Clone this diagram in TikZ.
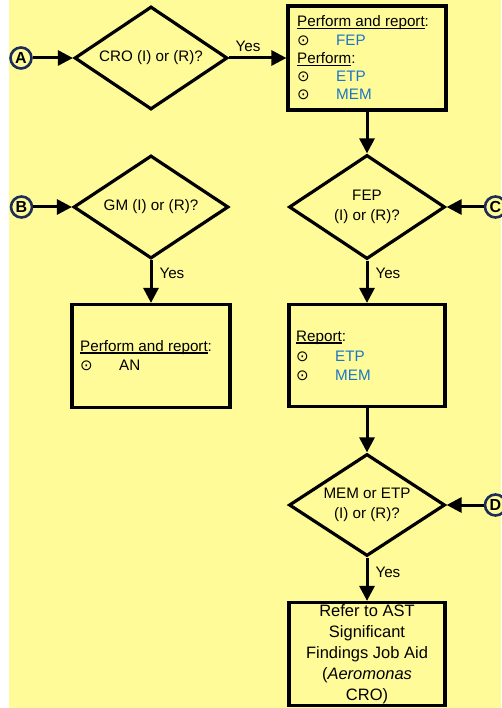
\documentclass[tikz,border=0pt]{standalone}
\usepackage{fontspec}
\setmainfont{Liberation Sans}
\newfontfamily\symf{DejaVu Sans}
\usetikzlibrary{shapes.geometric,arrows.meta}
\definecolor{pagebg}{RGB}{255,251,153}
\definecolor{ringnavy}{RGB}{28,45,90}
\definecolor{itemblue}{RGB}{26,117,198}
% underline drawn just below the baseline, crossing descenders
\newcommand\ulbar[1]{\setbox0\hbox{#1}\rlap{\rule[-2.3pt]{\wd0}{1.4pt}}\box0}
% bullet line: circled dot, then the item at a fixed tab
\newcommand\bitem[2][itemblue]{\makebox[39pt][l]{{\symf\fontsize{15}{15}\selectfont ⊙}}\textcolor{#1}{#2}}
\begin{document}
\begin{tikzpicture}[x=1pt,y=-1pt,
  every node/.style={font=\fontsize{15.2}{20}\selectfont},
  flow/.style={line width=3pt,-{Triangle[length=15pt,width=15pt]}},
  decision/.style={diamond,draw,line width=3.2pt,inner sep=0pt,aspect=1.5,align=center},
  stepbox/.style={draw,line width=3.2pt,inner sep=0pt,align=center},
  ring/.style={circle,draw=ringnavy,fill=pagebg,line width=2.6pt,minimum size=21pt,inner sep=0pt,font=\fontsize{16}{16}\selectfont\bfseries},
  txt/.style={anchor=base west,inner sep=0pt},
  yes/.style={inner sep=1pt}]
\useasboundingbox (0,0) rectangle (501,708);
\fill[pagebg] (9,0) rectangle (501,708);

% left column
\node[ring] (A) at (21,58) {A};
\node[decision,minimum width=153pt,minimum height=103pt] (cro) at (151,58) {CRO (I) or (R)?};
\node[ring] (B) at (21.5,207) {B};
\node[decision,minimum width=155pt,minimum height=103pt] (gm) at (151,207) {GM (I) or (R)?};
\node[stepbox,minimum width=158pt,minimum height=103pt] (gmbox) at (151,356) {};
\node[txt] (gmh) at (80,351.5) {\ulbar{Perform and report}:};
\node[txt] (gmi) at (80,370.5) {\bitem[black]{AN}};

% right column
\node[stepbox,minimum width=158pt,minimum height=104pt] (act1) at (367,58) {};
\node[txt] (a1h) at (297,26.7) {\ulbar{Perform and report}:};
\node[txt] (a1i) at (297,45.5) {\bitem{FEP}};
\node[txt] (a1p) at (297,64) {\ulbar{Perform}:};
\node[txt] (a1j) at (297,82) {\bitem{ETP}};
\node[txt] (a1k) at (297,100) {\bitem{MEM}};

\node[decision,minimum width=156pt,minimum height=104pt] (fep) at (367,207) {FEP\\(I) or (R)?};
\node[ring] (C) at (495.5,207) {C};

\node[stepbox,minimum width=156pt,minimum height=102pt] (rep) at (367,355.5) {};
\node[txt] (r1h) at (296,341.5) {\ulbar{Report}:};
\node[txt] (r1i) at (296,361) {\bitem{ETP}};
\node[txt] (r1j) at (296,380) {\bitem{MEM}};

\node[decision,minimum width=156pt,minimum height=102pt] (mem) at (367,505) {MEM or ETP\\(I) or (R)?};
\node[ring] (D) at (495.5,505) {D};

\node[stepbox,minimum width=156pt,minimum height=103pt,font=\fontsize{16.5}{21}\selectfont] (ast) at (367,654)
  {Refer to AST\\Significant\\Findings Job Aid\\(\textit{Aeromonas}\\CRO)};

% connectors
\draw[flow] (A) -- (cro);
\draw[flow] (cro.east) -- node[yes,above=4pt,pos=0.33]{Yes} (act1.west);
\draw[flow] (act1.south) -- (fep.north);
\draw[flow] (C) -- (fep.east);
\draw[flow] (fep.south) -- node[yes,right=6pt,pos=0.3]{Yes} (rep.north);
\draw[flow] (rep.south) -- (mem.north);
\draw[flow] (D) -- (mem.east);
\draw[flow] (mem.south) -- node[yes,right=6pt,pos=0.33]{Yes} (ast.north);
\draw[flow] (B) -- (gm);
\draw[flow] (gm.south) -- node[yes,right=6pt,pos=0.3]{Yes} (gmbox.north);
\end{tikzpicture}
\end{document}
